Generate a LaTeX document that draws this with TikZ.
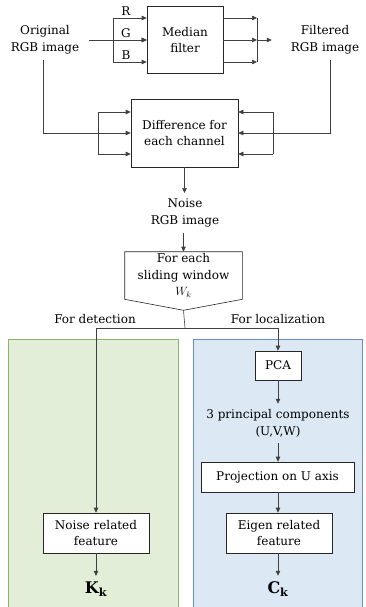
\documentclass[tikz,border=0pt]{standalone}
\usepackage{fontspec}
\setmainfont{DejaVu Serif}
\usetikzlibrary{arrows.meta}
\definecolor{detfill}{HTML}{E2EED8}
\definecolor{detline}{HTML}{8AB56A}
\definecolor{locfill}{HTML}{DCE8F4}
\definecolor{locline}{HTML}{6C8EBF}
\begin{document}
\begin{tikzpicture}[x=1pt,y=-1pt,line width=0.6pt,
  every node/.style={font=\fontsize{12}{16.5}\selectfont,align=center},
  arr/.style={-{Triangle[length=5pt,width=4.5pt]},black!75},
  lnk/.style={black!75},
  lbl/.style={inner sep=2pt,outer sep=4pt},
  big/.style={font=\fontsize{16}{18}\selectfont},
  blk/.style={draw=black!85,fill=white,inner sep=2pt}]
\useasboundingbox (0,0) rectangle (365,607);
% panels
\draw[detline,fill=detfill] (8,339) rectangle (178,612);
\draw[locline,fill=locfill] (193,339) rectangle (362,612);
% median filter
\node[blk,minimum width=76,minimum height=67] (med) at (185,40) {Median\\filter};
\node[lbl] (orig) at (45,40) {Original\\RGB image};
\node[lbl] (filt) at (325,40) {Filtered\\RGB image};
\draw[arr] (89,40) -- (med.west);
\draw[lnk] (113,18) -- (113,62);
\foreach \y/\c in {18/R,40/G,62/B} {
  \draw[arr] (113,\y) -- (med.west |- 0,\y);
  \node[inner sep=0pt] (ch\c) at (126,\y-7) {\c};
  \draw[arr] (med.east |- 0,\y) -- (257,\y);
}
\draw[lnk] (257,18) -- (257,62);
\draw[arr] (257,40) -- ([xshift=-13pt]filt.west);
% difference
\node[blk,minimum width=107,minimum height=68] (diff) at (184.5,133) {Difference for\\each channel};
\draw[arr] (orig.south) ++(-2,0) |- (diff.west);
\draw[lnk] (98,112) -- (98,154);
\draw[lnk] (273,112) -- (273,154);
\foreach \y in {112,154} {
  \draw[arr] (98,\y) -- (diff.west |- 0,\y);
  \draw[arr] (273,\y) -- (diff.east |- 0,\y);
}
\draw[arr] (filt.south) ++(5,0) |- (diff.east);
\node[lbl] (noise) at (185,213) {Noise\\RGB image};
\draw[arr] (diff.south) -- (noise.north -| diff.south);
% sliding window
\node[minimum width=117,minimum height=47,inner sep=0pt] (win) at (183.5,275.5) {For each\\sliding window\\$W_k$};
\draw[black!85] (win.north west) -- (win.north east) -- (win.south east)
  -- ([yshift=-11pt]win.south) coordinate (tip) -- (win.south west) -- cycle;
\draw[arr] (noise.south -| tip) -- (win.north -| tip);
\coordinate (split) at (185,328);
\node (det) at (95,319) {For detection};
\node (loc) at (278,319) {For localization};
% localization branch
\node[blk,minimum width=46,minimum height=29] (pca) at (278,365.5) {PCA};
\node[lbl] (pc) at (278,423.5) {3 principal components\\(U,V,W)};
\node[blk,minimum width=153,minimum height=30] (proj) at (277.5,477) {Projection on U axis};
\node[blk,minimum width=106,minimum height=40] (eig) at (279,533) {Eigen related\\feature};
\node[lbl,big] (ck) at (278,589) {$\mathbf{C}_\mathbf{k}$};
% detection branch
\node[blk,minimum width=106,minimum height=40] (nrf) at (96,533) {Noise related\\feature};
\node[lbl,big] (kk) at (96,589) {$\mathbf{K}_\mathbf{k}$};
\draw[lnk] (tip) -- (split);
\draw[arr] (split) -| (nrf.north);
\draw[arr] (split) -| (pca.north);
\draw[arr] (pca.south) -- (pc.north);
\draw[arr] (pc.south) -- (proj.north -| pc.south);
\draw[arr] (proj.south -| pc.south) -- (eig.north -| pc.south);
\draw[arr] (eig.south -| ck) -- (ck.north);
\draw[arr] (nrf.south) -- (kk.north);
\end{tikzpicture}
\end{document}
